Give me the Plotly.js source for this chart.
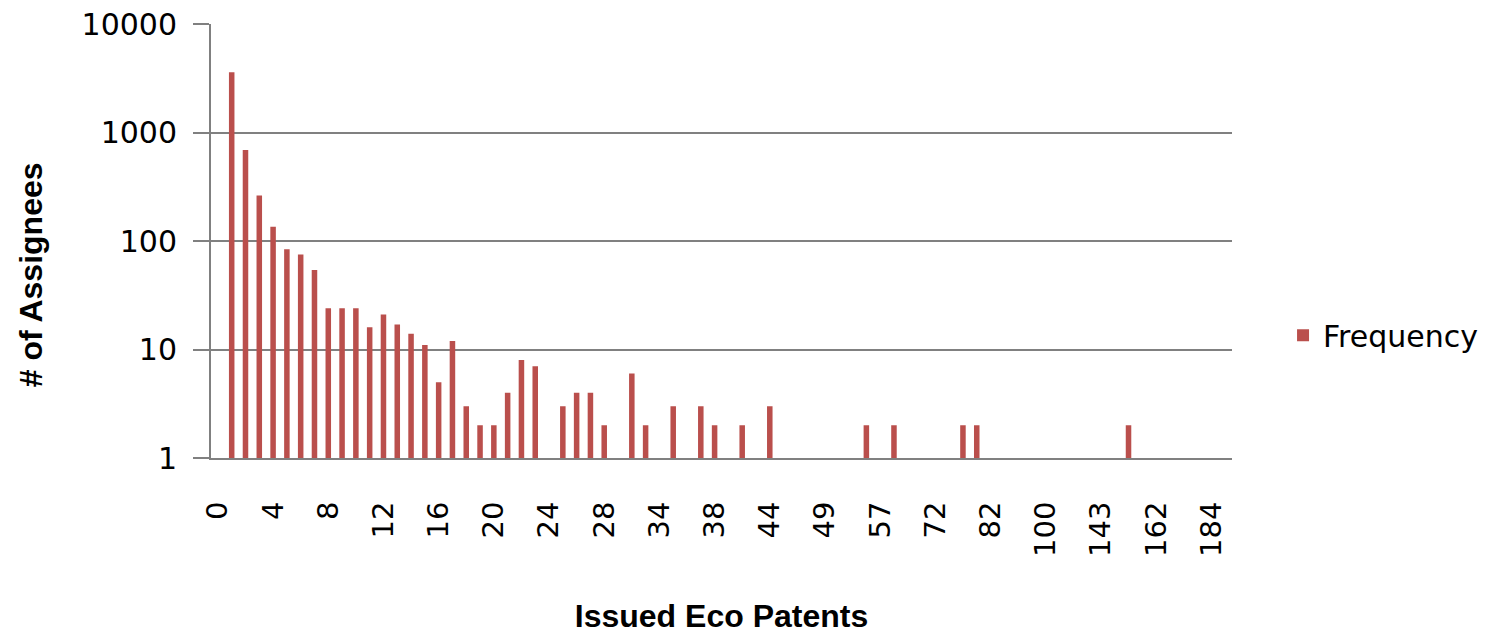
<!DOCTYPE html>
<html>
<head>
<meta charset="utf-8">
<script src="https://cdn.plot.ly/plotly-3.0.1.min.js"></script>
<style>html,body{margin:0;padding:0;background:#fff;}#chart{width:1501px;height:634px;}</style>
</head>
<body>
<div id="chart"></div>
<script>
// Categories: number of issued eco patents (only every 4th label is shown on the axis)
var categories = ['0','1','2','3','4','5','6','7','8','9','10','11','12','13','14','15','16','17','18','19','20','21','22','23','24','25','26','27','28',
  '29','30','31','34','35','36','37','38','39','40','42','44','45','46','48','49','51','53','55','57','58','63','68','72','75','78','80','82',
  '87','91','96','100','112','124','131','143','148','153','158','162','167','173','179','184','203'];
// Frequency: number of assignees
var frequency = [1,3600,690,263,135,84,75,54,24,24,24,16,21,17,14,11,5,12,3,2,2,4,8,7,1,3,4,4,2,
  1,6,2,1,3,1,3,2,1,2,1,3,1,1,1,1,1,1,2,1,2,1,1,1,1,2,2,1,
  1,1,1,1,1,1,1,1,1,2,1,1,1,1,1,1,1];
var xTickLabels = ['0','4','8','12','16','20','24','28','34','38','44','49','57','72','82','100','143','162','184'];
var yTickVals = [1,10,100,1000,10000];
var yTickText = ['1','10','100','1000','10000'];

var trace = {
  type: 'bar',
  name: 'Frequency',
  x: categories,
  y: frequency,
  marker: {color: '#BA4F4C'},
  hoverinfo: 'x+y'
};

var layout = {
  width: 1501, height: 634,
  margin: {l: 211, r: 269, t: 24, b: 176},
  paper_bgcolor: '#ffffff', plot_bgcolor: '#ffffff',
  bargap: 0.6,
  showlegend: true,
  font: {family: 'DejaVu Sans', color: '#000000'},
  xaxis: {
    type: 'category',
    categoryorder: 'array',
    categoryarray: categories,
    tickmode: 'array',
    tickvals: xTickLabels,
    ticktext: xTickLabels,
    tickangle: -90,
    ticks: '',
    ticklabelstandoff: 30,
    tickfont: {family: 'DejaVu Sans', size: 29, color: '#000'},
    showgrid: false,
    showline: true, linecolor: '#808080', linewidth: 2,
    zeroline: false,
    title: {text: 'Issued Eco Patents', font: {family: 'Liberation Sans', size: 32, weight: 'bold', color: '#000'}, standoff: 52}
  },
  yaxis: {
    type: 'log',
    range: [0, 4],
    tickmode: 'array',
    tickvals: yTickVals,
    ticktext: yTickText,
    ticks: 'outside', ticklen: 16, tickwidth: 2, tickcolor: '#808080',
    ticklabelstandoff: 10,
    tickfont: {family: 'DejaVu Sans', size: 30, color: '#000'},
    showgrid: true, gridcolor: '#808080', gridwidth: 2,
    showline: true, linecolor: '#808080', linewidth: 2,
    zeroline: false
  },
  legend: {
    x: 1.05, xanchor: 'left', y: 0.283, yanchor: 'middle',
    font: {family: 'DejaVu Sans', size: 30, color: '#000'},
    bgcolor: 'rgba(0,0,0,0)'
  },
  annotations: [{
    text: '# of Assignees',
    xref: 'paper', yref: 'paper',
    x: -0.176, y: 0.422, xanchor: 'center', yanchor: 'middle',
    textangle: -90, showarrow: false,
    font: {family: 'Liberation Sans', size: 32, weight: 'bold', color: '#000'}
  }]
};

Plotly.newPlot('chart', [trace], layout, {displayModeBar: false, staticPlot: true});
</script>
</body>
</html>
